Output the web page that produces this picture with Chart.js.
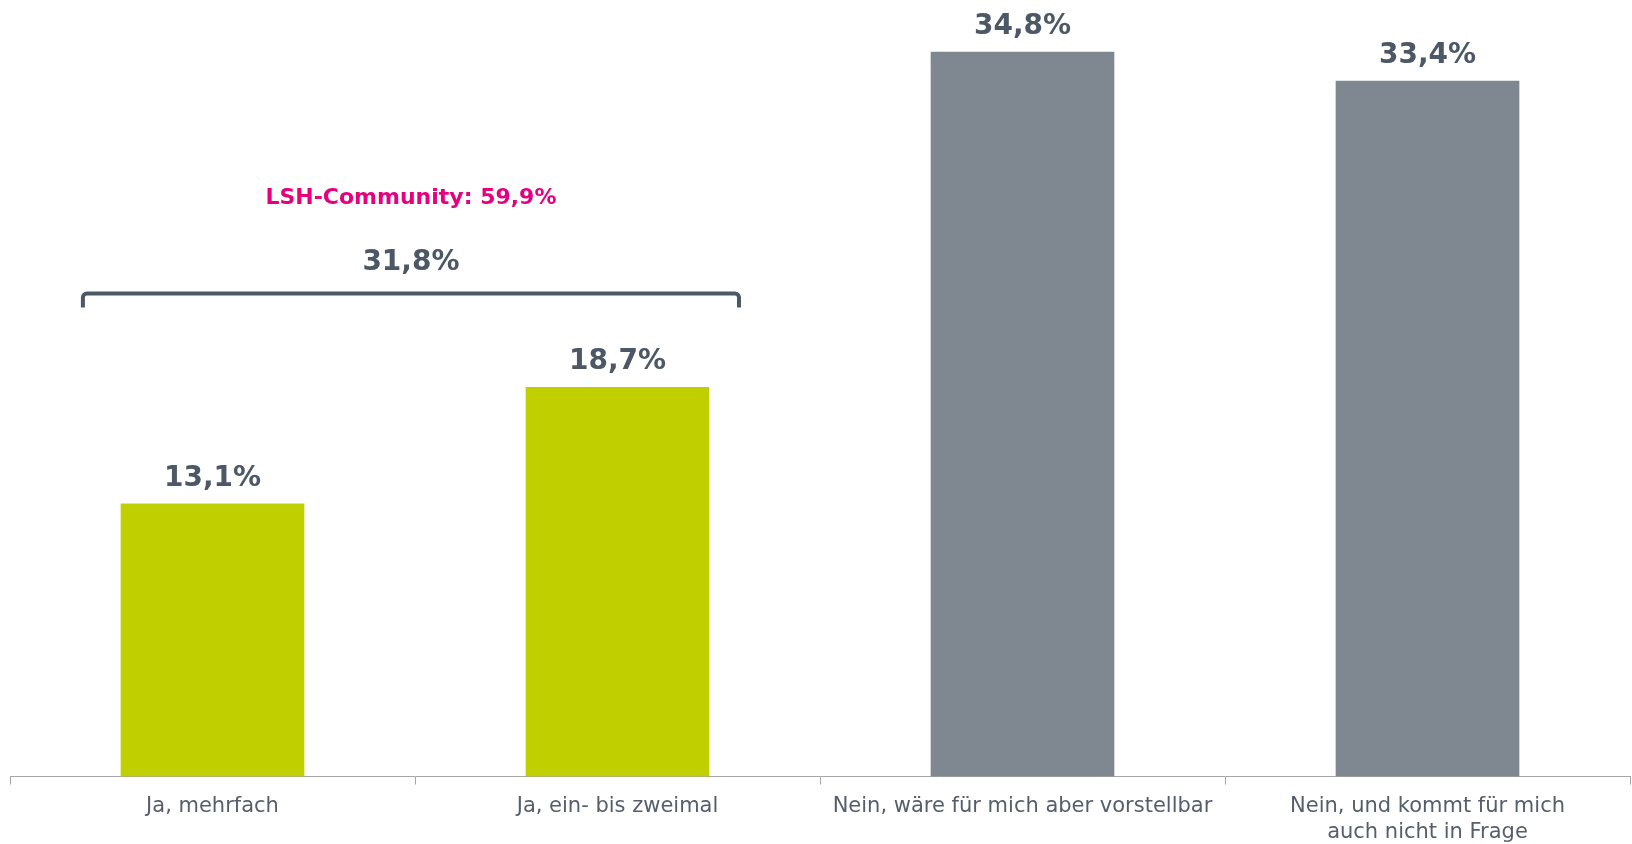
<!DOCTYPE html>
<html lang="de">
<head>
  <meta charset="UTF-8" />
  <title>Umfrage Balkendiagramm</title>
  <style>
    html, body { margin: 0; padding: 0; background: #ffffff; }
    #chart { display: block; }
  </style>
</head>
<body>
  <canvas id="chart" width="1632" height="844"></canvas>

  <script src="https://cdn.jsdelivr.net/npm/chart.js"></script>
  <script>
    // data
    const categories = [
      'Ja, mehrfach',
      'Ja, ein- bis zweimal',
      'Nein, wäre für mich aber vorstellbar',
      ['Nein, und kommt für mich', 'auch nicht in Frage']
    ];
    const values = [13.1, 18.7, 34.8, 33.4];
    const barColors = ['#bfcf00', '#bfcf00', '#7f8790', '#7f8790'];

    // bracket over the two "Ja" bars
    const groupTotal = 31.8;
    const communityLabel = 'LSH-Community: 59,9%';
    const bracketLevel = 23.2;     // y value of bracket line
    const bracketFrom = -0.32;      // category units
    const bracketTo = 1.30;

    const fmt = v => v.toFixed(1).replace('.', ',') + '%';
    const textColor = '#4d5866';

    const valueLabels = {
      id: 'valueLabels',
      afterDatasetsDraw(chart) {
        const ctx = chart.ctx;
        const meta = chart.getDatasetMeta(0);
        ctx.save();
        ctx.font = 'bold 28px "DejaVu Sans", Verdana, sans-serif';
        ctx.fillStyle = textColor;
        ctx.textAlign = 'center';
        ctx.textBaseline = 'alphabetic';
        meta.data.forEach((bar, i) => {
          ctx.fillText(fmt(values[i]), bar.x, bar.y - 18);
        });
        ctx.restore();
      }
    };

    const bracket = {
      id: 'bracket',
      afterDraw(chart) {
        const ctx = chart.ctx;
        const x = chart.scales.x, y = chart.scales.y;
        const step = x.getPixelForValue(1) - x.getPixelForValue(0);
        const x0 = x.getPixelForValue(0) + bracketFrom * step;
        const x1 = x.getPixelForValue(0) + bracketTo * step;
        const yb = y.getPixelForValue(bracketLevel);
        const r = 4, drop = 14;
        ctx.save();
        ctx.strokeStyle = textColor;
        ctx.lineWidth = 4;
        ctx.lineJoin = 'round';
        ctx.beginPath();
        ctx.moveTo(x0, yb + drop);
        ctx.arcTo(x0, yb, x0 + r, yb, r);
        ctx.lineTo(x1 - r, yb);
        ctx.arcTo(x1, yb, x1, yb + r, r);
        ctx.lineTo(x1, yb + drop);
        ctx.stroke();

        const cx = (x0 + x1) / 2;
        ctx.textAlign = 'center';
        ctx.textBaseline = 'alphabetic';
        ctx.fillStyle = textColor;
        ctx.font = 'bold 28px "DejaVu Sans", Verdana, sans-serif';
        ctx.fillText(fmt(groupTotal), cx, yb - 24);
        ctx.fillStyle = '#e6007e';
        ctx.font = 'bold 22px "DejaVu Sans", Verdana, sans-serif';
        ctx.fillText(communityLabel, cx, yb - 90);
        ctx.restore();
      }
    };

    new Chart(document.getElementById('chart'), {
      type: 'bar',
      data: {
        labels: categories,
        datasets: [{
          data: values,
          backgroundColor: barColors,
          borderWidth: 0,
          barThickness: 183
        }]
      },
      options: {
        responsive: false,
        animation: false,
        layout: { padding: { left: 10, right: 2, top: 0, bottom: -11 } },
        plugins: {
          legend: { display: false },
          tooltip: { enabled: false }
        },
        scales: {
          x: {
            offset: true,
            grid: {
              offset: true,
              drawOnChartArea: false,
              drawTicks: true,
              tickLength: 8,
              color: '#a6a6a6',
              lineWidth: 1
            },
            border: { color: '#a6a6a6', width: 1 },
            ticks: {
              color: '#555f6b',
              padding: 9,
              maxRotation: 0,
              autoSkip: false,
              font: { family: '"DejaVu Sans", Verdana, sans-serif', size: 21, lineHeight: 1.25 }
            }
          },
          y: {
            display: false,
            min: 0,
            max: 37.3
          }
        }
      },
      plugins: [valueLabels, bracket]
    });
  </script>
</body>
</html>
